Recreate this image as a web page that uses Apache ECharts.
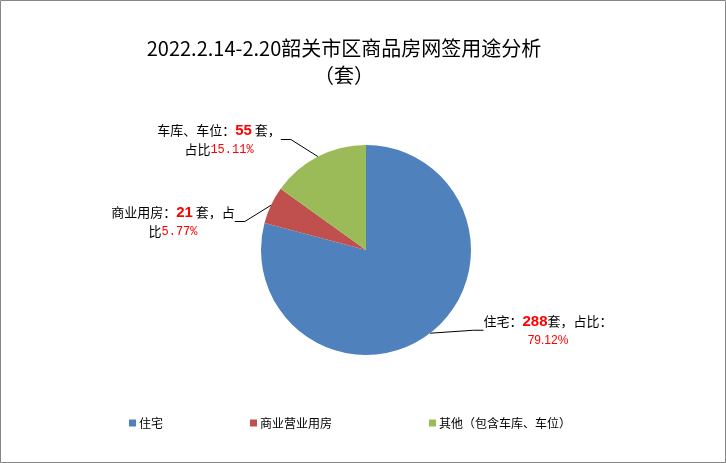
<!DOCTYPE html>
<html><head><meta charset="utf-8">
<script src="https://cdn.jsdelivr.net/npm/echarts@6/dist/echarts.min.js"></script>
<style>html,body{margin:0;padding:0;background:#fff}#c{width:726px;height:463px;box-sizing:border-box;}</style>
</head><body><div id="c"></div>
<script>
const categories = ['住宅', '商业营业用房', '其他（包含车库、车位）'];
const values = [288, 21, 55];
const labelNames = ['住宅', '商业用房', '车库、车位'];
const percents = ['79.12%', '5.77%', '15.11%'];
const colors = ['#4F81BD', '#C0504D', '#9BBB59'];

const chart = echarts.init(document.getElementById('c'));
const fontCJK = '"Noto Sans CJK SC", sans-serif';
const labelPos = [[548, 331], [173, 222], [219, 140]];
const SP = '\u00a0';
function fmt(p) {
  const i = p.dataIndex;
  if (i === 0) return '{t|' + labelNames[i] + '：}{n|' + values[i] + '}{t|套，占比：}\n{p|' + percents[i] + '}';
  if (i === 1) return '{t|' + labelNames[i] + '：}{n|' + values[i] + '}{t|' + SP + '套，占}\n{t|比}{m|' + percents[i] + '}';
  return '{t|' + labelNames[i] + '：}{n|' + values[i] + '}{t|' + SP + '套，}\n{t|占比}{m|' + percents[i] + '}';
}
chart.setOption({
  backgroundColor: '#fff',
  animation: false,
  title: {
    text: '2022.2.14-2.20韶关市区商品房网签用途分析\n（套）',
    left: 339, textAlign: 'center', top: 30,
    textStyle: { fontFamily: fontCJK, fontSize: 20, fontWeight: 'normal', color: '#000', lineHeight: 27 }
  },
  graphic: [{ type: 'rect', shape: { x: 0.5, y: 0.5, width: 725, height: 462 }, style: { fill: 'none', stroke: '#868686', lineWidth: 1 }, silent: true }],
  legend: [0, 1, 2].map((i) => ({
    data: [categories[i]], left: [124, 245, 424][i], top: 412,
    icon: 'rect', itemWidth: 7, itemHeight: 7, itemGap: 5,
    textStyle: { fontFamily: fontCJK, fontSize: 12, color: '#000', padding: [0, 0, 0, -2] }
  })),
  series: [{
    type: 'pie',
    center: [366, 250],
    radius: 105,
    startAngle: 90,
    clockwise: true,
    data: categories.map((c, i) => ({ name: c, value: values[i], itemStyle: { color: colors[i] } })),
    label: {
      show: true, formatter: fmt, align: 'center',
      rich: {
        t: { fontFamily: fontCJK, fontSize: 13, color: '#000', lineHeight: 19 },
        n: { fontFamily: 'Liberation Sans, Arial', fontSize: 15, fontWeight: 'bold', color: '#FF0000', lineHeight: 19 },
        p: { fontFamily: 'Liberation Sans, Arial', fontSize: 12, color: '#FF0000', lineHeight: 19, align: 'center' },
        m: { fontFamily: 'Liberation Mono, monospace', fontSize: 12, color: '#FF0000', lineHeight: 19 }
      }
    },
    labelLine: { show: true, length: 10, length2: 10, lineStyle: { color: '#000', width: 1 } },
    labelLayout: function (params) {
      const p = labelPos[params.dataIndex];
      return { x: p[0], y: p[1], align: 'center', verticalAlign: 'middle' };
    },
    emphasis: { disabled: true }
  }]
});
</script></body></html>
